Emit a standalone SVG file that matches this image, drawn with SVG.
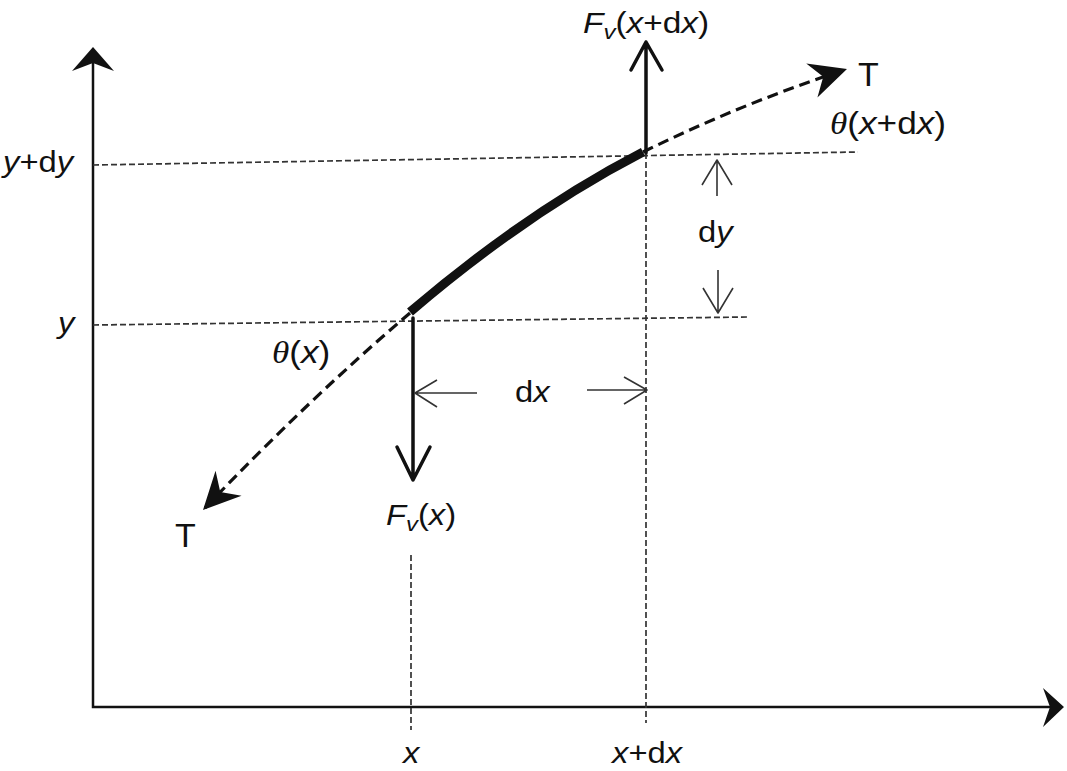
<svg xmlns="http://www.w3.org/2000/svg" width="1067" height="771" viewBox="0 0 1067 771">
<style>
.lbl{font-family:"Liberation Sans",Arial,sans-serif;font-size:29px;fill:#111}
.ang{font-family:"Liberation Sans",Arial,sans-serif;font-size:32px;fill:#111}
.it{font-style:italic}
.th{font-family:"Liberation Serif","Times New Roman",serif;font-style:italic}
.big{font-family:"Liberation Sans",Arial,sans-serif;font-size:34px;fill:#111}
.axis{stroke:#111;stroke-width:2.5;fill:none}
.guide{stroke:#333;stroke-width:1.7;stroke-dasharray:6 3;fill:none}
.tension{stroke:#111;stroke-width:3.2;stroke-dasharray:11 6;fill:none}
.force{stroke:#111;stroke-width:3.5;fill:none;stroke-linecap:round;stroke-linejoin:round}
.dim{stroke:#333;stroke-width:1.6;fill:none;stroke-linejoin:round}
</style>
<defs>
<marker id="dart" viewBox="-40 -20 44 40" refX="0" refY="0" markerWidth="44" markerHeight="40" markerUnits="userSpaceOnUse" orient="auto">
<path d="M0,0 L-37,-18 L-25,0 L-37,18 Z" fill="#111"/>
</marker>
</defs>
<rect width="1067" height="771" fill="#fff"/>

<g id="axes">
<path class="axis" d="M93,60 V707 H1050"/>
<path d="M93,47 L114,71 L93,63 L72,71 Z" fill="#111"/>
<path d="M1064,707 L1043,688 L1050,707 L1043,727 Z" fill="#111"/>
</g>

<g id="guides">
<path class="guide" d="M93,165 L858,152"/>
<path class="guide" d="M93,325 L748,317"/>
<path class="guide" d="M646,153 V723"/>
<path class="guide" d="M411,555 V730"/>
</g>

<g id="string">
<path class="tension" d="M410,313 Q310,398 203,510" marker-end="url(#dart)"/>
<path class="tension" d="M643,152 Q743,103 847,69" marker-end="url(#dart)"/>
<path d="M410,312 Q527,212 643,152" stroke="#111" stroke-width="9" fill="none"/>
</g>

<g id="forces">
<path class="force" d="M646,153 V42 M631,70 L646,42 L662,70"/>
<path class="force" d="M413,318 V480 M397,447 L413,480 L430,447"/>
</g>

<g id="dimensions">
<path class="dim" d="M477,393 H415 M437,380 L415,393 L437,407"/>
<path class="dim" d="M587,390 H647 M624,377 L647,390 L624,404"/>
<path class="dim" d="M717,196 V160 M702,185 L717,160 L732,185"/>
<path class="dim" d="M718,270 V313 M703,288 L718,313 L733,288"/>
</g>

<g id="labels">
<text class="lbl" transform="translate(583,33) scale(1.15,1)"><tspan class="it">F</tspan><tspan class="it" font-size="21" dy="6">v</tspan><tspan dy="-6">(</tspan><tspan class="it">x</tspan>+d<tspan class="it">x</tspan>)</text>
<text class="big" x="858" y="86">T</text>
<text class="ang" transform="translate(830,134) scale(1.1,1)"><tspan class="th">θ</tspan>(<tspan class="it">x</tspan>+d<tspan class="it">x</tspan>)</text>
<text class="lbl" transform="translate(3,172) scale(1.13,1)"><tspan class="it">y</tspan>+d<tspan class="it">y</tspan></text>
<text class="lbl it" transform="translate(58,333) scale(1.13,1)">y</text>
<text class="lbl" transform="translate(698,242) scale(1.13,1)">d<tspan class="it">y</tspan></text>
<text class="ang" transform="translate(272,363) scale(1.1,1)"><tspan class="th">θ</tspan>(<tspan class="it">x</tspan>)</text>
<text class="lbl" transform="translate(515,402) scale(1.13,1)">d<tspan class="it">x</tspan></text>
<text class="lbl" transform="translate(386,525) scale(1.13,1)"><tspan class="it">F</tspan><tspan class="it" font-size="21" dy="6">v</tspan><tspan dy="-6">(</tspan><tspan class="it">x</tspan>)</text>
<text class="big" x="175" y="547">T</text>
<text class="lbl it" transform="translate(403,763) scale(1.13,1)">x</text>
<text class="lbl" transform="translate(612,763) scale(1.13,1)"><tspan class="it">x</tspan>+d<tspan class="it">x</tspan></text>
</g>
</svg>
